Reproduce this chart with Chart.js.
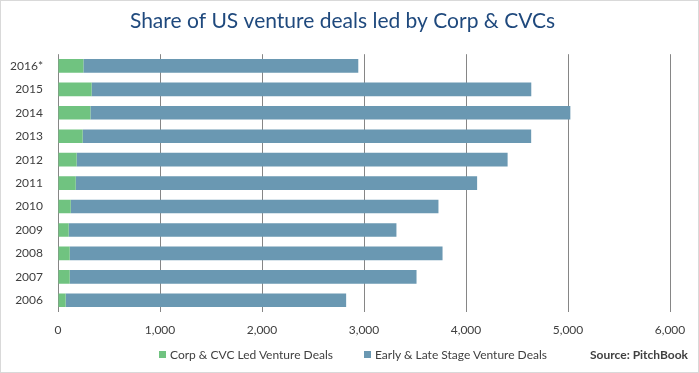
<!DOCTYPE html>
<html>
<head>
<meta charset="utf-8">
<script src="https://cdn.jsdelivr.net/npm/chart.js@4.4.1/dist/chart.umd.min.js"></script>
<style>
    html, body { margin: 0; padding: 0; background: #fff; }
    #wrap { position: relative; width: 697px; height: 371px; border: 1px solid #d9d9d9; font-family: Lato, "Open Sans", sans-serif; }
    #legend { position: absolute; left: 158px; top: 346px; display: flex; gap: 31px; font-size: 12px; color: #404040; }
    #legend .item { display: flex; align-items: center; }
    #legend .box { width: 7px; height: 7px; margin-right: 4px; }
    #source { position: absolute; right: 10px; top: 346px; font-size: 12px; font-weight: bold; color: #404040; }
</style>
</head>
<body>
<div id="wrap">
    <canvas id="dealsChart" width="697" height="371"></canvas>
    <div id="legend"></div>
    <div id="source">Source: PitchBook</div>
</div>
<script>
// Share of US venture deals led by Corp & CVCs
const years = ['2016*', '2015', '2014', '2013', '2012', '2011', '2010', '2009', '2008', '2007', '2006'];
const corpLed = [249, 330, 318, 242, 183, 174, 125, 105, 115, 115, 75];
const earlyLate = [2695, 4310, 4705, 4397, 4225, 3935, 3605, 3213, 3655, 3400, 2750];
const xTicks = [0, 1000, 2000, 3000, 4000, 5000, 6000];

const FONT = 'Lato, "Open Sans", sans-serif';

// nudge the title a little right of the layout box, like the original
const titleShift = {
    id: 'titleShift',
    afterLayout(chart) {
        if (chart.titleBlock) chart.titleBlock.right += 14;
    }
};

const chart = new Chart(document.getElementById('dealsChart'), {
    type: 'bar',
    data: {
        labels: years,
        datasets: [
            { label: 'Corp & CVC Led Venture Deals', data: corpLed, backgroundColor: '#70c380', barPercentage: 0.58, categoryPercentage: 1 },
            { label: 'Early & Late Stage Venture Deals', data: earlyLate, backgroundColor: '#6a98b2', barPercentage: 0.58, categoryPercentage: 1 }
        ]
    },
    options: {
        indexAxis: 'y',
        responsive: false,
        animation: false,
        layout: { padding: { left: 0, right: 28, top: 8, bottom: 32 } },
        scales: {
            x: {
                stacked: true, min: 0, max: 6000,
                afterBuildTicks: axis => { axis.ticks = xTicks.map(v => ({ value: v })); },
                afterFit: axis => { axis.height = 28; },
                ticks: {
                    color: '#404040', font: { family: FONT, size: 12 }, padding: 11,
                    callback: v => v.toLocaleString('en-US')
                },
                grid: { color: '#868686', drawTicks: false },
                border: { display: false }
            },
            y: {
                stacked: true,
                afterFit: axis => { axis.width = 57; },
                ticks: { color: '#404040', font: { family: FONT, size: 12 }, padding: 7 },
                grid: { display: false },
                border: { display: false }
            }
        },
        plugins: {
            title: {
                display: true,
                text: 'Share of US venture deals led by Corp & CVCs',
                color: '#1f497d',
                font: { family: FONT, size: 21, weight: 'normal' },
                padding: { top: 0, bottom: 20 }
            },
            legend: { display: false },
            tooltip: { enabled: false }
        }
    },
    plugins: [titleShift]
});

// HTML legend built from the chart's datasets
const legendEl = document.getElementById('legend');
legendEl.innerHTML = chart.data.datasets.map(ds =>
    `<span class="item"><span class="box" style="background:${ds.backgroundColor}"></span>${ds.label}</span>`
).join('');
</script>
</body>
</html>
